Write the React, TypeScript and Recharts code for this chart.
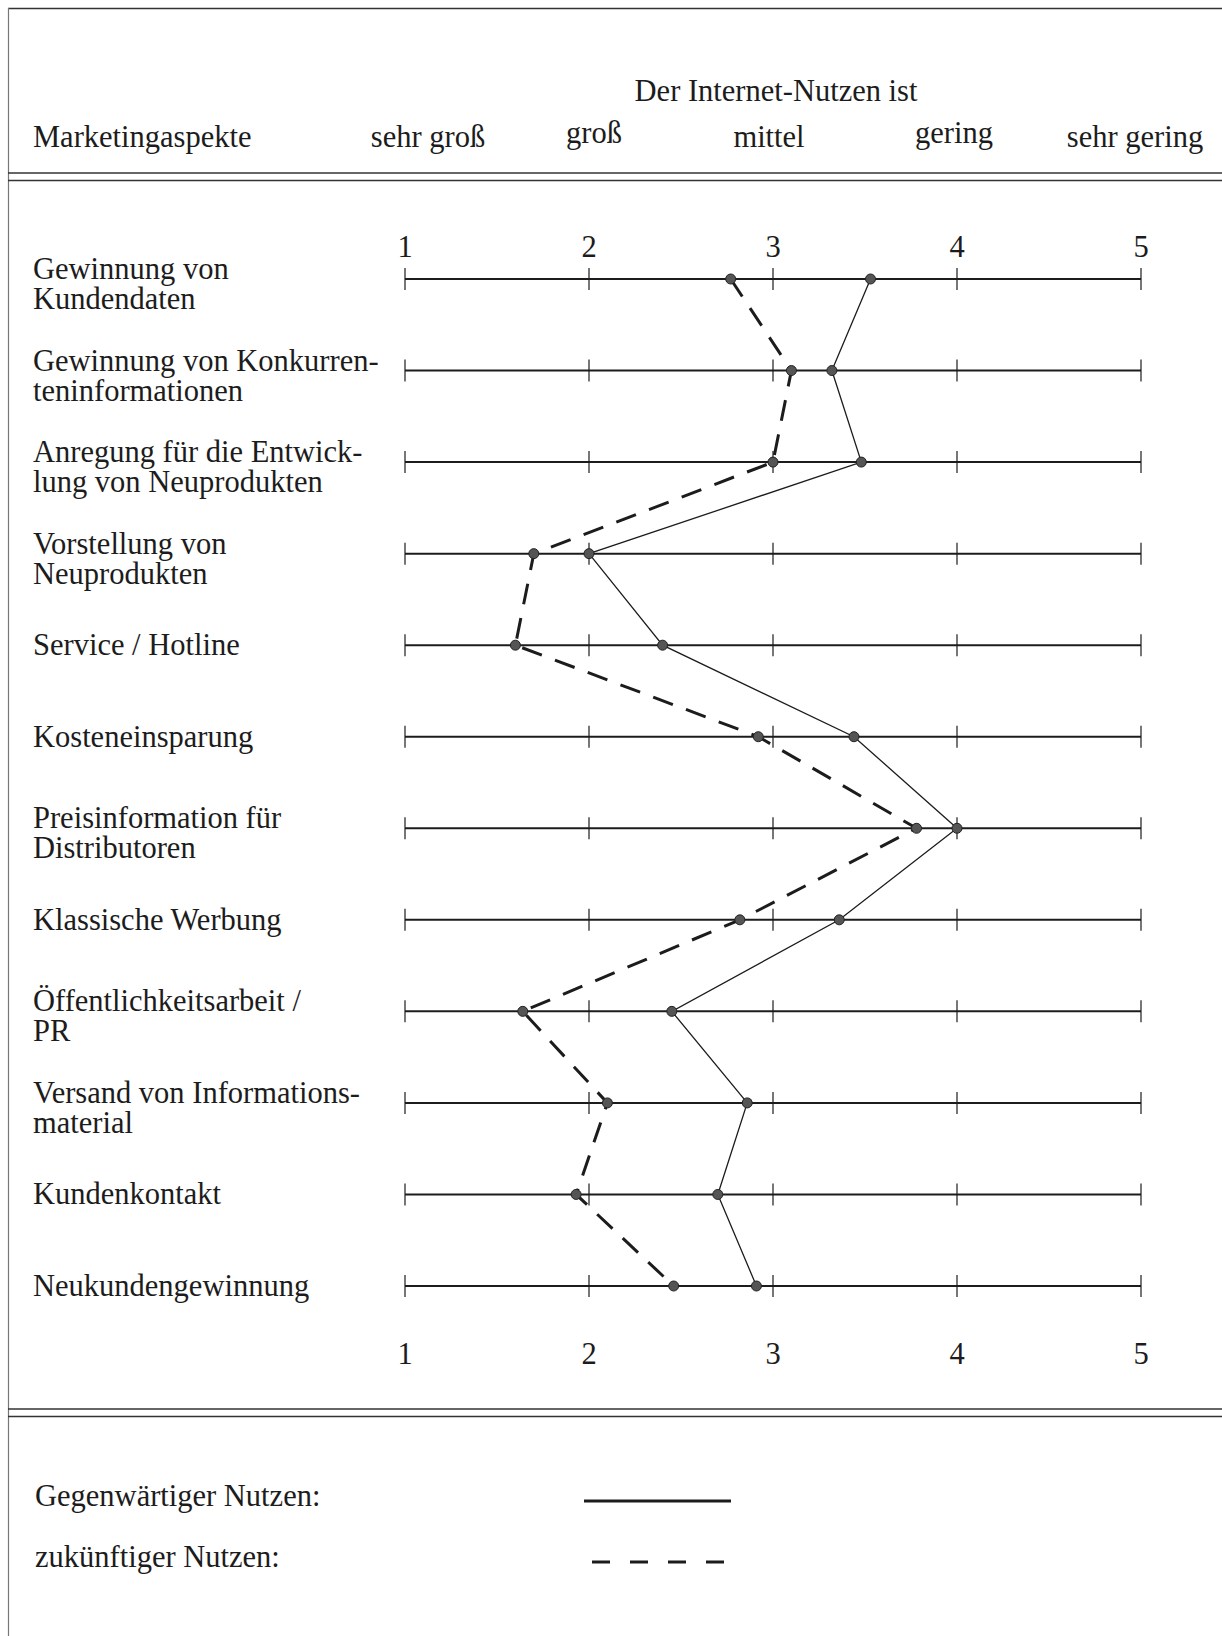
import React from 'react';
import { ComposedChart, Line, XAxis, YAxis, ReferenceLine, ReferenceDot, Legend } from 'recharts';

// Marketingaspekte (rows, top to bottom)
const aspects = [
  'Gewinnung von\nKundendaten',
  'Gewinnung von Konkurren-\nteninformationen',
  'Anregung für die Entwick-\nlung von Neuprodukten',
  'Vorstellung von\nNeuprodukten',
  'Service / Hotline',
  'Kosteneinsparung',
  'Preisinformation für\nDistributoren',
  'Klassische Werbung',
  'Öffentlichkeitsarbeit /\nPR',
  'Versand von Informations-\nmaterial',
  'Kundenkontakt',
  'Neukundengewinnung',
];

// 1 = sehr groß ... 5 = sehr gering
const currentBenefit = [3.53, 3.32, 3.48, 2.0, 2.4, 3.44, 4.0, 3.36, 2.45, 2.86, 2.7, 2.91];
const futureBenefit = [2.77, 3.1, 3.0, 1.7, 1.6, 2.92, 3.78, 2.82, 1.64, 2.1, 1.93, 2.46];

const scaleTicks = [1, 2, 3, 4, 5];
const ratingLabels = ['sehr groß', 'groß', 'mittel', 'gering', 'sehr gering'];
const seriesNames = ['Gegenwärtiger Nutzen:', 'zukünftiger Nutzen:'];

const data = aspects.map((name, i) => ({
  name,
  current: currentBenefit[i],
  future: futureBenefit[i],
}));

const W = 1222;
const H = 1636;
const FONT = '"Liberation Serif", "Times New Roman", serif';
const INK = '#1c1c1c';
const ratingX = [428, 594, 769, 954, 1135];

const textStyle = { fontFamily: FONT, fontSize: 30.5, fill: INK };

function TopTick(props: any) {
  return (
    <text x={props.x} y={257} textAnchor="middle" style={textStyle}>
      {props.payload.value}
    </text>
  );
}

function BottomTick(props: any) {
  return (
    <text x={props.x} y={1364} textAnchor="middle" style={textStyle}>
      {props.payload.value}
    </text>
  );
}

function AspectTick(props: any) {
  const lines = String(props.payload.value).split('\n');
  const y0 = lines.length > 1 ? props.y : props.y + 10;
  return (
    <text x={33} y={y0} textAnchor="start" style={textStyle}>
      {lines.map((l, i) => (
        <tspan key={i} x={33} dy={i === 0 ? 0 : 30}>
          {l}
        </tspan>
      ))}
    </text>
  );
}

function TickMark(props: any) {
  return <line x1={props.cx} x2={props.cx} y1={props.cy - 11} y2={props.cy + 11} stroke={INK} strokeWidth={1.2} />;
}

function LegendRows(props: any) {
  const items = [...(props.payload ?? [])].sort(
    (a: any, b: any) => seriesNames.indexOf(a.value) - seriesNames.indexOf(b.value)
  );
  return (
    <svg width={W} height={150} style={{ display: 'block' }}>
      {items.map((entry: any, i: number) => {
        const dashed = seriesNames.indexOf(entry.value) === 1;
        const base = 56 + i * 61;
        return (
          <g key={entry.value}>
            <text x={35} y={base} style={textStyle}>
              {entry.value}
            </text>
            <line
              x1={dashed ? 592 : 584}
              x2={dashed ? 724 : 731}
              y1={base - 5}
              y2={base - 5}
              stroke={INK}
              strokeWidth={3}
              strokeDasharray={dashed ? '18 20' : undefined}
            />
          </g>
        );
      })}
    </svg>
  );
}

export default function App() {
  return (
    <div style={{ position: 'absolute', left: 0, top: 0, width: W, height: H, background: '#fff' }}>
      <svg width={W} height={H} style={{ position: 'absolute', left: 0, top: 0 }}>
        <line x1={8} x2={W} y1={8.5} y2={8.5} stroke="#333" strokeWidth={1.3} />
        <line x1={8.5} x2={8.5} y1={8} y2={H} stroke="#777" strokeWidth={1.2} />
        <line x1={8} x2={W} y1={173} y2={173} stroke="#333" strokeWidth={1.3} />
        <line x1={8} x2={W} y1={180.5} y2={180.5} stroke="#333" strokeWidth={1.3} />
        <line x1={8} x2={W} y1={1409} y2={1409} stroke="#333" strokeWidth={1.3} />
        <line x1={8} x2={W} y1={1416.5} y2={1416.5} stroke="#333" strokeWidth={1.3} />
        <text x={776} y={101} textAnchor="middle" style={textStyle}>
          Der Internet-Nutzen ist
        </text>
        <text x={33} y={147} style={textStyle}>
          Marketingaspekte
        </text>
        {ratingLabels.map((l, i) => (
          <text key={l} x={ratingX[i]} y={i === 1 || i === 3 ? 143 : 147} textAnchor="middle" style={textStyle}>
            {l}
          </text>
        ))}
      </svg>
      <div style={{ position: 'absolute', left: 0, top: 0 }}>
        <ComposedChart
          width={W}
          height={H}
          data={data}
          layout="vertical"
          margin={{ top: 0, right: 81, bottom: 0, left: 0 }}
        >
          <XAxis
            xAxisId="top"
            orientation="top"
            type="number"
            domain={[1, 5]}
            ticks={scaleTicks}
            height={279}
            axisLine={false}
            tickLine={false}
            tick={TopTick}
          />
          <XAxis
            xAxisId="bottom"
            orientation="bottom"
            type="number"
            domain={[1, 5]}
            ticks={scaleTicks}
            height={350}
            axisLine={false}
            tickLine={false}
            tick={BottomTick}
          />
          <YAxis
            type="category"
            dataKey="name"
            width={405}
            interval={0}
            axisLine={false}
            tickLine={false}
            tick={AspectTick}
          />
          {aspects.map((a) => (
            <ReferenceLine key={a} xAxisId="top" y={a} stroke={INK} strokeWidth={2} />
          ))}
          {aspects.map((a) =>
            scaleTicks.map((t) => (
              <ReferenceDot key={a + t} xAxisId="top" x={t} y={a} r={0} shape={TickMark} />
            ))
          )}
          <Line
            xAxisId="top"
            dataKey="future"
            name={seriesNames[1]}
            type="linear"
            stroke={INK}
            strokeWidth={3}
            strokeDasharray="21 14"
            dot={{ r: 5, fill: '#555', stroke: '#222', strokeWidth: 1, strokeDasharray: 'none' }}
            isAnimationActive={false}
          />
          <Line
            xAxisId="bottom"
            dataKey="current"
            name={seriesNames[0]}
            type="linear"
            stroke={INK}
            strokeWidth={1.3}
            dot={{ r: 5, fill: '#555', stroke: '#222', strokeWidth: 1 }}
            isAnimationActive={false}
          />
          <Legend
            layout="vertical"
            align="center"
            verticalAlign="middle"
            wrapperStyle={{ top: 1450, left: 0, width: W, height: 150 }}
            content={LegendRows}
          />
        </ComposedChart>
      </div>
    </div>
  );
}
